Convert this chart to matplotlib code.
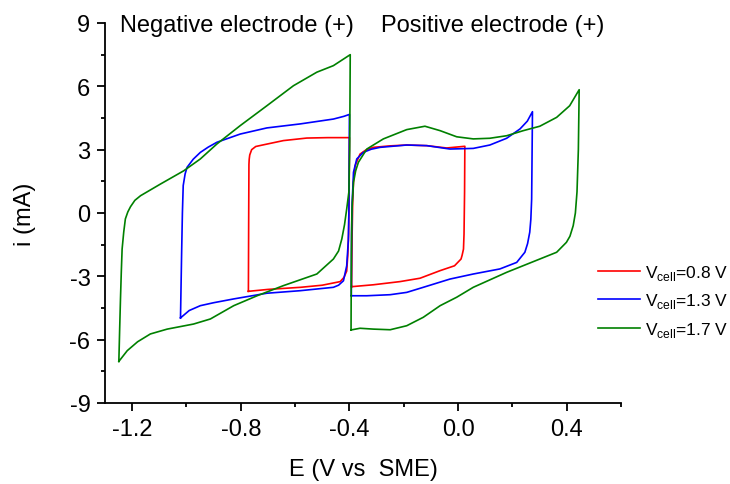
import matplotlib
matplotlib.use("Agg")
import matplotlib.pyplot as plt
from matplotlib.ticker import MultipleLocator

plt.rcParams['font.family'] = ['Liberation Sans', 'DejaVu Sans']
plt.rcParams['mathtext.fontset'] = 'custom'
plt.rcParams['mathtext.rm'] = 'Liberation Sans'

labels = ['V$_{\\mathregular{cell}}$=0.8 V', 'V$_{\\mathregular{cell}}$=1.3 V', 'V$_{\\mathregular{cell}}$=1.7 V']
colors = ['#ff0000', '#0000ff', '#008000']

# Vcell = 0.8 V
red_neg_E = [-0.772, -0.771, -0.770, -0.769, -0.767, -0.760, -0.745, -0.720, -0.643, -0.557, -0.48, -0.40,
             -0.401, -0.403, -0.406, -0.41, -0.42, -0.434, -0.50, -0.58, -0.70, -0.772]
red_neg_i = [-3.71, -0.5, 2.30, 2.55, 2.75, 3.00, 3.15, 3.22, 3.43, 3.55, 3.57, 3.57,
             1.0, -1.0, -2.0, -2.75, -3.05, -3.25, -3.42, -3.52, -3.62, -3.71]
red_pos_E = [-0.392, -0.390, -0.388, -0.385, -0.379, -0.361, -0.340, -0.312, -0.250, -0.189, -0.115, -0.042, 0.025,
             0.024, 0.022, 0.020, 0.015, 0.011, -0.013, -0.066, -0.140, -0.214, -0.312, -0.392]
red_pos_i = [-3.49, -1.0, 0.5, 1.5, 2.24, 2.79, 2.98, 3.11, 3.18, 3.22, 3.19, 3.08, 3.16,
             1.0, -1.0, -1.71, -2.0, -2.18, -2.50, -2.73, -3.09, -3.25, -3.40, -3.49]

# Vcell = 1.3 V
blue_neg_E = [-1.022, -1.018, -1.015, -1.012, -1.005, -0.998, -0.975, -0.949, -0.920, -0.888, -0.802, -0.704,
              -0.581, -0.459, -0.42, -0.40, -0.401, -0.402, -0.404, -0.410, -0.422, -0.440, -0.459, -0.581,
              -0.704, -0.826, -0.900, -0.949, -0.990, -1.022]
blue_neg_i = [-4.97, -2.0, 0.0, 1.3, 1.85, 2.16, 2.55, 2.87, 3.12, 3.35, 3.74, 4.03,
              4.22, 4.45, 4.58, 4.67, 2.0, 0.0, -1.3, -2.50, -3.21, -3.42, -3.52, -3.68,
              -3.80, -4.07, -4.25, -4.39, -4.62, -4.97]
blue_pos_E = [-0.393, -0.392, -0.390, -0.387, -0.385, -0.373, -0.349, -0.320, -0.287, -0.189, -0.115, -0.030,
              0.056, 0.117, 0.179, 0.228, 0.255, 0.274, 0.272, 0.271, 0.268, 0.264, 0.256, 0.246, 0.216, 0.154,
              0.056, -0.030, -0.128, -0.189, -0.250, -0.336, -0.393]
blue_pos_i = [-3.92, -1.0, 0.5, 1.3, 1.93, 2.56, 2.87, 3.02, 3.11, 3.22, 3.19, 3.03,
              3.06, 3.22, 3.54, 3.98, 4.35, 4.80, 2.0, 0.66, -0.3, -0.91, -1.45, -1.86, -2.34, -2.65,
              -2.89, -3.13, -3.52, -3.76, -3.87, -3.92, -3.92]

# Vcell = 1.7 V
green_neg_E = [-1.249, -1.246, -1.243, -1.240, -1.237, -1.231, -1.225, -1.216, -1.206, -1.190, -1.169, -1.096,
               -1.010, -0.949, -0.888, -0.802, -0.704, -0.606, -0.520, -0.459, -0.397, -0.399, -0.402, -0.410,
               -0.418, -0.428, -0.440, -0.459, -0.520, -0.643, -0.740, -0.826, -0.912, -0.974, -1.071, -1.133,
               -1.180, -1.218, -1.249]
green_neg_i = [-7.03, -5.5, -4.07, -2.8, -1.71, -0.9, -0.28, 0.05, 0.3, 0.6, 0.82, 1.37,
               2.00, 2.56, 3.27, 4.14, 5.08, 6.03, 6.67, 6.98, 7.50, 3.0, 1.0, 0.19,
               -0.55, -1.23, -1.80, -2.18, -2.89, -3.44, -3.92, -4.39, -5.02, -5.26, -5.50, -5.73,
               -6.10, -6.52, -7.03]
green_pos_E = [-0.394, -0.393, -0.391, -0.388, -0.385, -0.377, -0.367, -0.336, -0.275, -0.189, -0.122, -0.066,
               -0.005, 0.056, 0.117, 0.179, 0.240, 0.301, 0.363, 0.411, 0.446, 0.443, 0.438, 0.432, 0.424, 0.412,
               0.399, 0.363, 0.301, 0.179, 0.056, -0.005, -0.066, -0.128, -0.189, -0.250, -0.312, -0.361, -0.394]
green_pos_i = [-5.54, -2.0, 0.0, 0.8, 1.45, 2.0, 2.40, 3.03, 3.51, 3.95, 4.11, 3.90,
               3.61, 3.51, 3.54, 3.66, 3.90, 4.11, 4.53, 5.08, 5.84, 3.0, 1.0, 0.0, -0.60, -1.10,
               -1.39, -1.86, -2.18, -2.81, -3.52, -3.99, -4.39, -4.94, -5.34, -5.53, -5.50, -5.46, -5.54]

x_ticks = [-1.2, -0.8, -0.4, 0.0, 0.4]
y_ticks = [-9, -6, -3, 0, 3, 6, 9]

fig = plt.figure(figsize=(7.3, 4.85), dpi=100)
ax = fig.add_axes([105/730, 1 - 404/485, (621-105)/730, (404-24)/485])

series = [(red_neg_E, red_neg_i, red_pos_E, red_pos_i),
          (blue_neg_E, blue_neg_i, blue_pos_E, blue_pos_i),
          (green_neg_E, green_neg_i, green_pos_E, green_pos_i)]
for (nE, ni, pE, pi), c, lab in zip(series, colors, labels):
    ax.plot(nE, ni, color=c, lw=1.2, label=lab, solid_joinstyle='round')
    ax.plot(pE, pi, color=c, lw=1.2, solid_joinstyle='round')

ax.set_xlim(-1.3, 0.6)
ax.set_ylim(-9, 9)
ax.set_xticks(x_ticks)
ax.set_xticklabels(['-1.2', '-0.8', '-0.4', '0.0', '0.4'])
ax.set_yticks(y_ticks)
ax.set_yticklabels([str(v) for v in y_ticks])
ax.xaxis.set_minor_locator(MultipleLocator(0.2))
ax.yaxis.set_minor_locator(MultipleLocator(1.5))
ax.spines['top'].set_visible(False)
ax.spines['right'].set_visible(False)
for s in ['left', 'bottom']:
    ax.spines[s].set_linewidth(1.3)
ax.tick_params(which='major', direction='out', length=5.5, width=1.3, labelsize=17)
ax.tick_params(axis='x', which='major', pad=5)
ax.tick_params(axis='y', which='major', pad=5)
ax.tick_params(which='minor', direction='out', length=3, width=1.3)

ax.set_xlabel('E (V vs  SME)', fontsize=17, labelpad=13)
ax.set_ylabel('i (mA)', fontsize=17, labelpad=24)

ax.text(0.029, 0.979, 'Negative electrode (+)', transform=ax.transAxes, fontsize=17, va='baseline', ha='left')
ax.text(0.534, 0.979, 'Positive electrode (+)', transform=ax.transAxes, fontsize=17, va='baseline', ha='left')

ax.legend(loc='center left', bbox_to_anchor=(598/730, 1 - 301.7/485), bbox_transform=fig.transFigure,
          frameon=False, fontsize=12.5, handlelength=2.4, handletextpad=0.3, labelspacing=0.55,
          borderpad=0, borderaxespad=0)

fig.savefig('out.png', dpi=100)
